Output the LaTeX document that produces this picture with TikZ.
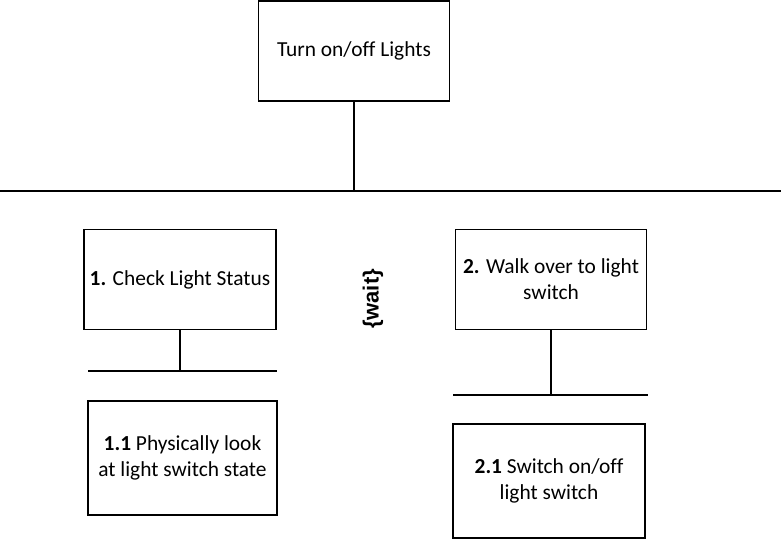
\documentclass[tikz,border=0pt]{standalone}
\usepackage{fontspec}
\setmainfont{Carlito}[Ligatures=NoCommon]
\newfontfamily\waitfont{Liberation Sans}
\begin{document}
\begin{tikzpicture}[x=1pt,y=-1pt,
  box/.style={draw=black, line width=1.2pt, fill=white, inner sep=0pt, align=center,
    font=\fontsize{21.4}{26}\selectfont},
  conn/.style={draw=black, line width=1.6pt}]
\useasboundingbox (0,0) rectangle (781,540);
% boxes
\node[box, minimum width=191pt, minimum height=100pt] (top) at (354,51) {Turn on/off Lights};
\node[box, minimum width=192pt, minimum height=100pt] (b1) at (180,279.5) {\textbf{1.} Check Light Status};
\node[box, minimum width=191pt, minimum height=100pt] (b2) at (551,279.5) {\textbf{2.} Walk over to light\\switch};
\node[box, minimum width=189pt, minimum height=114pt] (b11) at (182.5,458) {\textbf{1.1} Physically look\\at light switch state};
\node[box, minimum width=192pt, minimum height=114pt] (b21) at (549,481) {\textbf{2.1} Switch on/off\\light switch};
% wait label
\node[rotate=90, inner sep=0pt, font=\waitfont\bfseries\fontsize{22}{24}\selectfont] (wait) at (373,299) {\{wait\}};
% bus lines
\coordinate (busL) at (0,191);
\coordinate (busR) at (781,191);
\coordinate (bus1L) at (88,371);
\coordinate (bus1R) at (277,371);
\coordinate (bus2L) at (453,395);
\coordinate (bus2R) at (648,395);
\draw[conn] (busL) -- (busR);
\draw[conn] (bus1L) -- (bus1R);
\draw[conn] (bus2L) -- (bus2R);
\draw[conn] (top.south) -- (top.south |- busL);
\draw[conn] (b1.south) -- (b1.south |- bus1L);
\draw[conn] (b2.south) -- (b2.south |- bus2L);
\end{tikzpicture}
\end{document}
